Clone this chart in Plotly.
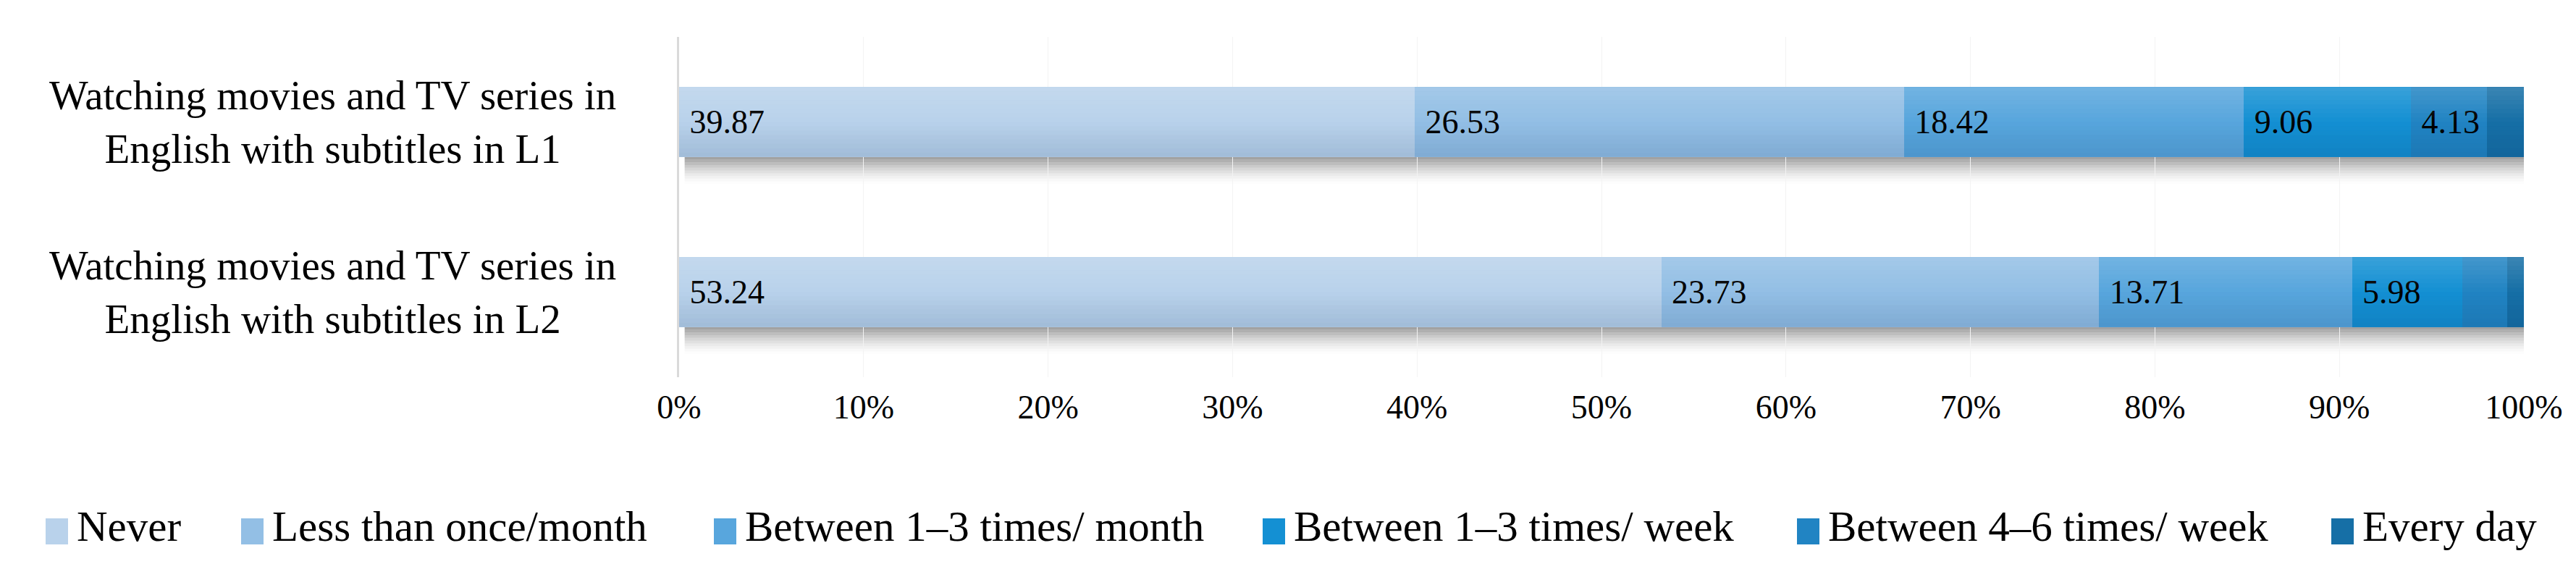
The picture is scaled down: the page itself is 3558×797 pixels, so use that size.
import plotly.graph_objects as go

# ---------------- data ----------------
categories = [
    "Watching movies and TV series in<br>English with subtitles in L1",
    "Watching movies and TV series in<br>English with subtitles in L2",
]
series_names = [
    "Never",
    "Less than once/month",
    "Between 1–3 times/ month",
    "Between 1–3 times/ week",
    "Between 4–6 times/ week",
    "Every day",
]
never = [39.87, 53.24]
less_than_monthly = [26.53, 23.73]
monthly_1_3 = [18.42, 13.71]
weekly_1_3 = [9.06, 5.98]
weekly_4_6 = [4.13, 2.45]
every_day = [1.99, 0.89]
series_values = [never, less_than_monthly, monthly_1_3, weekly_1_3, weekly_4_6, every_day]

tick_vals = [0, 10, 20, 30, 40, 50, 60, 70, 80, 90, 100]
tick_labels = [f"{v}%" for v in tick_vals]

# ---------------- style / layout ----------------
W, H = 3558, 797
ML, MR, MT, MB = 930, 80, 43, 284
PW, PH = W - ML - MR, H - MT - MB
SERIF = "Liberation Serif, Times New Roman, serif"
colors = ["#B9D2EB", "#93BFE5", "#58A6DD", "#1490D3", "#2184C3", "#166FA6"]
y_pos = [1, 0]
BAR_W = 0.41

fig = go.Figure()
for name, vals, col in zip(series_names, series_values, colors):
    labels = ["\u00a0" + f"{v:.2f}" if v >= 3 else "" for v in vals]
    fig.add_trace(go.Bar(
        y=y_pos, x=vals, orientation="h", name=name, width=BAR_W,
        marker=dict(color=col, line=dict(width=0)),
        text=labels, textposition="inside", insidetextanchor="start",
        insidetextfont=dict(family=SERIF, size=46, color="black"),
        constraintext="none", hoverinfo="x+name", showlegend=False,
    ))

totals = [sum(s[i] for s in series_values) for i in range(len(y_pos))]
shapes = []

# soft drop shadow under each bar
n_strips = 10
step = 0.016
for yc, tot in zip(y_pos, totals):
    for k in range(n_strips):
        alpha = 0.48 * (1 - k / n_strips) ** 1.6
        y_top = yc - BAR_W / 2 - k * step
        shapes.append(dict(type="rect", xref="x", yref="y", x0=0.3, x1=tot + 0.4,
                           y0=y_top - step, y1=y_top, line=dict(width=0),
                           fillcolor=f"rgba(60,60,60,{alpha:.3f})", layer="below"))

# vertical light-to-dark sheen over each bar
n_g = 16
g_step = BAR_W / n_g
for yc, tot in zip(y_pos, totals):
    for k in range(n_g):
        t = (k + 0.5) / n_g          # 0 at top, 1 at bottom
        y1 = yc + BAR_W / 2 - k * g_step
        if t < 0.5:
            fill = f"rgba(255,255,255,{0.16 * (0.5 - t) / 0.5:.3f})"
        else:
            fill = f"rgba(0,40,90,{0.13 * (t - 0.5) / 0.5:.3f})"
        shapes.append(dict(type="rect", xref="x", yref="y", x0=0, x1=tot,
                           y0=y1 - g_step, y1=y1, line=dict(width=0),
                           fillcolor=fill, layer="above"))

annotations = []
for yc, cat in zip(y_pos, categories):
    annotations.append(dict(x=-0.1876, xref="paper", y=yc, yref="y", text=cat,
                            showarrow=False, xanchor="center", yanchor="middle",
                            align="center", font=dict(family=SERIF, size=57, color="black")))

# legend (large square keys, one row, like the reference)
def px_x(p):
    return (p - ML) / PW

def px_y(p):
    return (H - MB - p) / PH

legend_key_left = [55, 325, 978, 1736, 2474, 3212]
KEY_W, KEY_TOP, KEY_BOT = 31, 708, 744
for name, col, kx in zip(series_names, colors, legend_key_left):
    shapes.append(dict(type="rect", xref="paper", yref="paper",
                       x0=px_x(kx), x1=px_x(kx + KEY_W), y0=px_y(KEY_BOT), y1=px_y(KEY_TOP),
                       fillcolor=col, line=dict(width=0)))
    annotations.append(dict(x=px_x(kx + KEY_W + 10), y=px_y(719), xref="paper", yref="paper",
                            text=name, showarrow=False, xanchor="left", yanchor="middle",
                            font=dict(family=SERIF, size=59, color="black")))

fig.update_layout(
    width=W, height=H,
    margin=dict(l=ML, r=MR, t=MT, b=MB, autoexpand=False),
    paper_bgcolor="white", plot_bgcolor="white",
    barmode="stack",
    shapes=shapes, annotations=annotations,
    xaxis=dict(range=[0, 100], tickvals=tick_vals, ticktext=tick_labels,
               showgrid=True, gridcolor="#F3F3F3", gridwidth=1, zeroline=False,
               showline=False, ticks="", ticklabelstandoff=10,
               tickfont=dict(family=SERIF, size=46, color="black")),
    yaxis=dict(range=[-0.5, 1.5], showticklabels=False, showgrid=False, zeroline=False,
               showline=True, linecolor="#DADADA", linewidth=3, ticks=""),
    showlegend=False,
)

fig.write_html("out.html")
